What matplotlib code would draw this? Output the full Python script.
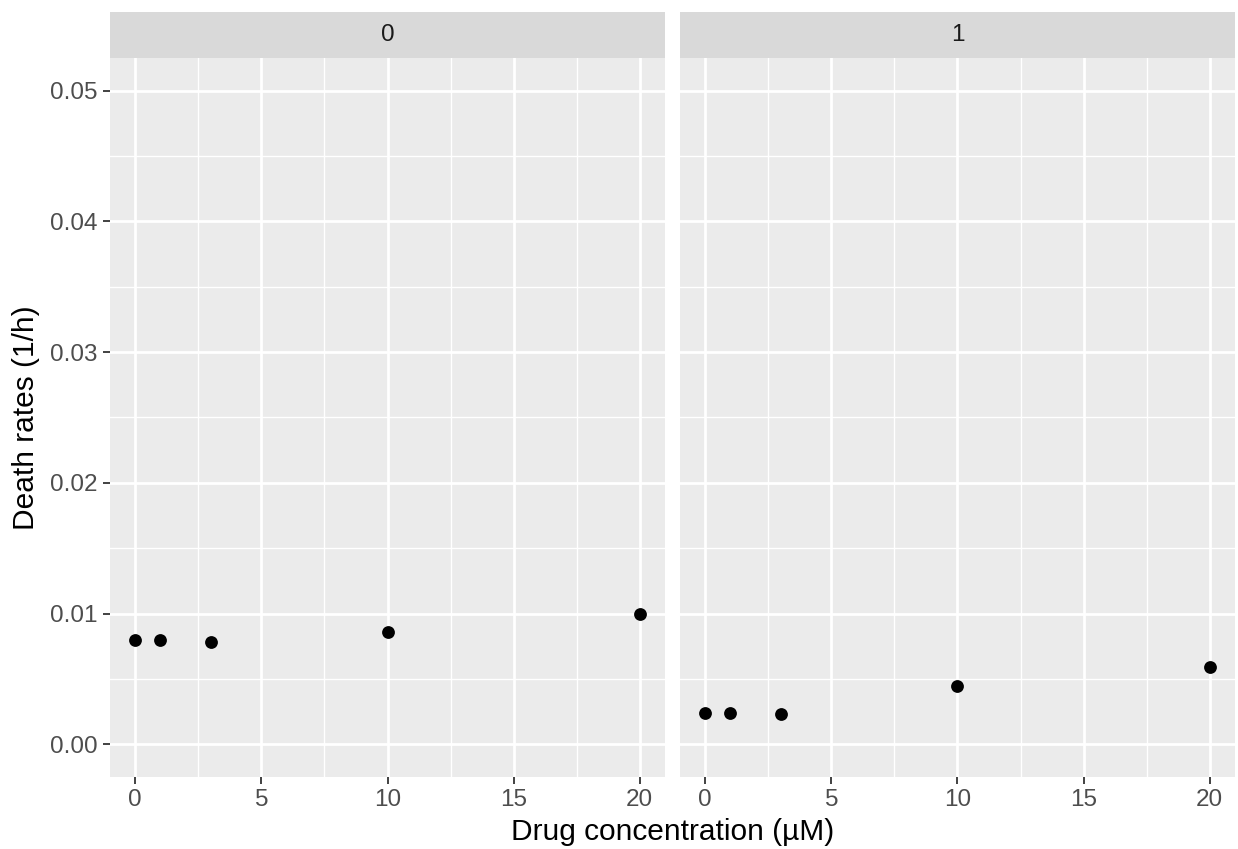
import numpy as np
import matplotlib.pyplot as plt
from matplotlib.ticker import MultipleLocator

plt.rcParams['font.family'] = ['Liberation Sans', 'DejaVu Sans']

# data
panels = ["0", "1"]
conc = [0, 1, 3, 10, 20]
death_0 = [0.00795, 0.00795, 0.00782, 0.00862, 0.0100]
death_1 = [0.00241, 0.00241, 0.00234, 0.00447, 0.00594]
rates = [death_0, death_1]

W, H = 1238, 849
fig = plt.figure(figsize=(W / 100, H / 100), dpi=100)

panel_top, panel_bot = 58, 777
strip_top = 12
lefts = [110, 680]
width = 555

bg = "#EBEBEB"
strip_bg = "#D9D9D9"

for i, (lab, ys) in enumerate(zip(panels, rates)):
    l = lefts[i]
    ax = fig.add_axes([l / W, (H - panel_bot) / H, width / W, (panel_bot - panel_top) / H])
    ax.set_facecolor(bg)
    ax.set_xlim(-1, 21)
    ax.set_ylim(-0.0025, 0.0525)
    ax.xaxis.set_major_locator(MultipleLocator(5))
    ax.xaxis.set_minor_locator(MultipleLocator(2.5))
    ax.yaxis.set_major_locator(MultipleLocator(0.01))
    ax.yaxis.set_minor_locator(MultipleLocator(0.005))
    ax.grid(which='major', color='white', linewidth=2.0)
    ax.grid(which='minor', color='white', linewidth=1.0)
    ax.set_axisbelow(True)
    for s in ax.spines.values():
        s.set_visible(False)
    ax.tick_params(which='minor', length=0)
    ax.tick_params(which='major', length=5, width=1.3, color='#333333',
                   labelsize=17.5, labelcolor='#4D4D4D', pad=4)
    ax.scatter(conc, ys, s=85, color='black', zorder=3, linewidths=0)
    if i == 0:
        ax.yaxis.set_major_formatter(plt.FuncFormatter(lambda v, p: f"{v:.2f}"))
        ax.set_ylabel("Death rates (1/h)", fontsize=21.5, color='black', labelpad=7)
    else:
        ax.tick_params(axis='y', which='both', left=False, labelleft=False)

    sax = fig.add_axes([l / W, (H - panel_top) / H, width / W, (panel_top - strip_top) / H])
    sax.set_facecolor(strip_bg)
    sax.set_xticks([])
    sax.set_yticks([])
    for s in sax.spines.values():
        s.set_visible(False)
    sax.text(0.5, 0.5, lab, ha='center', va='center', fontsize=17.5, color='#1A1A1A',
             transform=sax.transAxes)

fig.text((lefts[0] + lefts[1] + width) / 2 / W, 1 - 832 / H, "Drug concentration (\u00b5M)",
         ha='center', va='center', fontsize=21.5, color='black')

fig.savefig("out.png", dpi=100)
